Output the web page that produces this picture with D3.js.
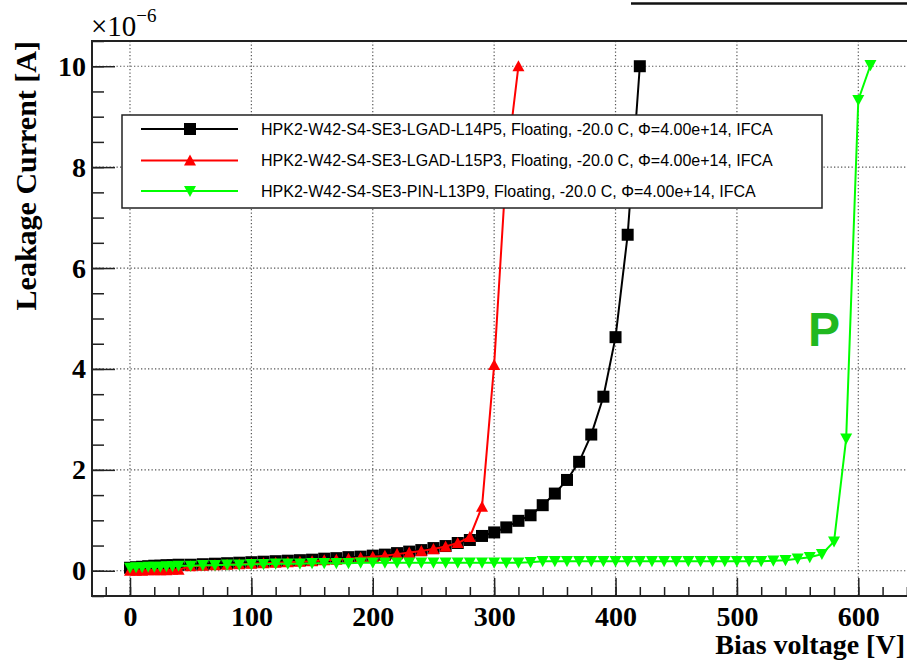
<!DOCTYPE html>
<html>
<head>
<meta charset="utf-8">
<script src="https://cdn.jsdelivr.net/npm/d3@7"></script>
<style>
  html, body { margin: 0; padding: 0; background: #fff; }
  svg { display: block; }
</style>
</head>
<body>
<svg id="chart" width="907" height="664"></svg>
<script>
// ---- IV scans, -20 C, Phi = 4e14 (current in units of 1e-6 A) ----
const seriesNames = [
  "HPK2-W42-S4-SE3-LGAD-L14P5, Floating, -20.0 C, \u03A6=4.00e+14, IFCA",
  "HPK2-W42-S4-SE3-LGAD-L15P3, Floating, -20.0 C, \u03A6=4.00e+14, IFCA",
  "HPK2-W42-S4-SE3-PIN-L13P9, Floating, -20.0 C, \u03A6=4.00e+14, IFCA"
];
const seriesColors = ["#000000", "#ff0000", "#00ff00"];
const seriesMarkers = ["square", "triangleUp", "triangleDown"];

const l14p5Voltage = [0,5,10,15,20,25,30,35,40,50,60,70,80,90,100,110,120,130,140,150,160,170,180,190,200,
  210,220,230,240,250,260,270,280,290,300,310,320,330,340,350,360,370,380,390,400,410,420];
const l14p5Current = [0.06,0.07,0.08,0.09,0.10,0.10,0.11,0.11,0.12,0.12,0.13,0.14,0.15,0.16,0.17,0.18,0.19,0.20,0.21,0.22,0.24,0.25,0.27,0.28,0.30,
  0.32,0.35,0.38,0.41,0.45,0.49,0.55,0.61,0.69,0.76,0.86,0.99,1.10,1.30,1.53,1.80,2.16,2.70,3.45,4.63,6.66,10.0];

const l15p3Voltage = [0,5,10,15,20,25,30,35,40,50,60,70,80,90,100,110,120,130,140,150,160,170,180,190,200,
  210,220,230,240,250,260,270,280,290,300,310,320];
const l15p3Current = [0.00,0.00,0.00,0.01,0.01,0.01,0.01,0.02,0.02,0.09,0.10,0.11,0.12,0.13,0.14,0.15,0.16,0.17,0.18,0.19,0.21,0.22,0.24,0.26,0.28,
  0.30,0.33,0.36,0.39,0.43,0.48,0.55,0.67,1.27,4.08,8.0,10.0];

const l13p9Voltage = [0,5,10,15,20,25,30,35,40,50,60,70,80,90,100,110,120,130,140,150,160,170,180,190,200,
  210,220,230,240,250,260,270,280,290,300,310,320,330,340,350,360,370,380,390,400,
  410,420,430,440,450,460,470,480,490,500,510,520,530,540,550,560,570,580,590,600,610];
const l13p9Current = [0.06,0.07,0.07,0.08,0.08,0.08,0.09,0.09,0.10,0.10,0.11,0.11,0.12,0.12,0.13,0.13,0.14,0.14,0.14,0.15,0.15,0.15,0.15,0.16,0.16,
  0.16,0.16,0.16,0.16,0.16,0.16,0.16,0.16,0.16,0.16,0.16,0.16,0.17,0.19,0.19,0.19,0.19,0.19,0.19,0.19,
  0.19,0.19,0.19,0.19,0.19,0.19,0.19,0.19,0.19,0.19,0.19,0.19,0.20,0.21,0.24,0.27,0.33,0.58,2.62,9.33,10.02];

const xMajorTicks = [0, 100, 200, 300, 400, 500, 600];
const yMajorTicks = [0, 2, 4, 6, 8, 10];
const xTitle = "Bias voltage [V]";
const yTitle = "Leakage Current [A]";
const deviceTag = "P";

// ---- layout ----
const svg = d3.select("#chart");
const W = 907, H = 664;
const frame = { left: 92, top: 41, right: 919, bottom: 596 };

const x = d3.scaleLinear().domain([-31.3, 650]).range([frame.left, frame.right]);
const y = d3.scaleLinear().domain([-0.5, 10.5]).range([frame.bottom, frame.top]);

svg.append("rect").attr("width", W).attr("height", H).attr("fill", "#fff");

// dotted grid at the major divisions
const grid = svg.append("g").attr("stroke", "#555").attr("stroke-width", 1.2)
  .attr("stroke-dasharray", "1.3,2.2");
grid.selectAll(".gx").data(xMajorTicks).join("line")
  .attr("x1", d => x(d)).attr("x2", d => x(d))
  .attr("y1", frame.top).attr("y2", frame.bottom);
grid.selectAll(".gy").data(yMajorTicks).join("line")
  .attr("y1", d => y(d)).attr("y2", d => y(d))
  .attr("x1", frame.left).attr("x2", frame.right);

// axes: ticks point into the frame
const tickFont = "'Liberation Serif', 'Times New Roman', serif";
const xAxisG = svg.append("g").attr("transform", `translate(0,${frame.bottom})`);
xAxisG.call(d3.axisBottom(x).tickValues(d3.range(-20, 650, 20)).tickSize(-9).tickFormat(""));
xAxisG.append("g").call(d3.axisBottom(x).tickValues(xMajorTicks).tickSize(-18).tickPadding(10).tickFormat(d3.format("d")));
xAxisG.selectAll(".domain").remove();
xAxisG.selectAll("line").attr("stroke", "#222").attr("stroke-width", 1.5);
xAxisG.selectAll("text").attr("font-family", tickFont).attr("font-weight", "bold")
  .attr("font-size", 28).attr("fill", "#000");

const yAxisG = svg.append("g").attr("transform", `translate(${frame.left},0)`);
yAxisG.call(d3.axisLeft(y).tickValues(d3.range(-0.5, 10.51, 0.5)).tickSize(-12).tickFormat(""));
yAxisG.append("g").call(d3.axisLeft(y).tickValues(yMajorTicks).tickSize(-23).tickPadding(6).tickFormat(d3.format("d")));
yAxisG.selectAll(".domain").remove();
yAxisG.selectAll("line").attr("stroke", "#222").attr("stroke-width", 1.5);
yAxisG.selectAll("text").attr("font-family", tickFont).attr("font-weight", "bold")
  .attr("font-size", 28).attr("fill", "#000");

// frame
svg.append("rect")
  .attr("x", frame.left).attr("y", frame.top)
  .attr("width", frame.right - frame.left).attr("height", frame.bottom - frame.top)
  .attr("fill", "none").attr("stroke", "#222").attr("stroke-width", 2);

// exponent label of the y axis
const expo = svg.append("text").attr("x", frame.left - 1).attr("y", 36)
  .attr("font-family", tickFont).attr("font-size", 29).attr("fill", "#000");
expo.append("tspan").text("\u00D710");
expo.append("tspan").attr("dy", -14).attr("font-size", 19).text("\u22126");

// axis titles
svg.append("text").attr("x", 905).attr("y", 654).attr("text-anchor", "end")
  .attr("font-family", tickFont).attr("font-weight", "bold").attr("font-size", 28)
  .attr("fill", "#000").text(xTitle);
svg.append("text").attr("transform", `translate(36,${frame.top}) rotate(-90)`)
  .attr("text-anchor", "end")
  .attr("font-family", tickFont).attr("font-weight", "bold").attr("font-size", 30)
  .attr("fill", "#000").text(yTitle);

// marker shapes
function markerPath(kind, s) {
  const h = s / 2;
  if (kind === "square") return `M${-h},${-h}H${h}V${h}H${-h}Z`;
  if (kind === "triangleUp") return `M0,${-h}L${h},${h * 0.85}L${-h},${h * 0.85}Z`;
  return `M0,${h}L${h},${-h * 0.85}L${-h},${-h * 0.85}Z`;
}

// curves
svg.append("clipPath").attr("id", "plotClip").append("rect")
  .attr("x", frame.left).attr("y", frame.top)
  .attr("width", frame.right - frame.left).attr("height", frame.bottom - frame.top);
const plot = svg.append("g").attr("clip-path", "url(#plotClip)");

const series = [
  { v: l14p5Voltage, i: l14p5Current },
  { v: l15p3Voltage, i: l15p3Current },
  { v: l13p9Voltage, i: l13p9Current }
];
const line = d3.line().x(d => x(d[0])).y(d => y(d[1]));
series.forEach((s, k) => {
  const pts = s.v.map((v, j) => [v, s.i[j]]);
  const g = plot.append("g");
  g.append("path").attr("d", line(pts)).attr("fill", "none")
    .attr("stroke", seriesColors[k]).attr("stroke-width", 2);
  g.selectAll("path.m").data(pts).join("path").attr("class", "m")
    .attr("transform", d => `translate(${x(d[0])},${y(d[1])})`)
    .attr("d", markerPath(seriesMarkers[k], 12))
    .attr("fill", seriesColors[k]);
});

// legend
const lg = svg.append("g");
lg.append("rect").attr("x", 122).attr("y", 115).attr("width", 700).attr("height", 93)
  .attr("fill", "#fff").attr("stroke", "#222").attr("stroke-width", 1.5);
const rowY = [129, 160.5, 191];
seriesNames.forEach((name, k) => {
  lg.append("line").attr("x1", 141).attr("x2", 238).attr("y1", rowY[k]).attr("y2", rowY[k])
    .attr("stroke", seriesColors[k]).attr("stroke-width", 2.2);
  lg.append("path").attr("transform", `translate(190,${rowY[k]})`)
    .attr("d", markerPath(seriesMarkers[k], 12)).attr("fill", seriesColors[k]);
  lg.append("text").attr("x", 261).attr("y", rowY[k]).attr("dy", "0.36em")
    .attr("font-family", "'Liberation Sans', Arial, sans-serif").attr("font-size", 16)
    .attr("fill", "#000").text(name);
});

// device tag
svg.append("text").attr("x", 808).attr("y", 346)
  .attr("font-family", "'Liberation Sans', Arial, sans-serif").attr("font-weight", "bold")
  .attr("font-size", 48).attr("fill", "#20b820").text(deviceTag);

// edge of the box above the frame
svg.append("line").attr("x1", 631).attr("x2", 907).attr("y1", 3.5).attr("y2", 3.5)
  .attr("stroke", "#111").attr("stroke-width", 2.5);
</script>
</body>
</html>
